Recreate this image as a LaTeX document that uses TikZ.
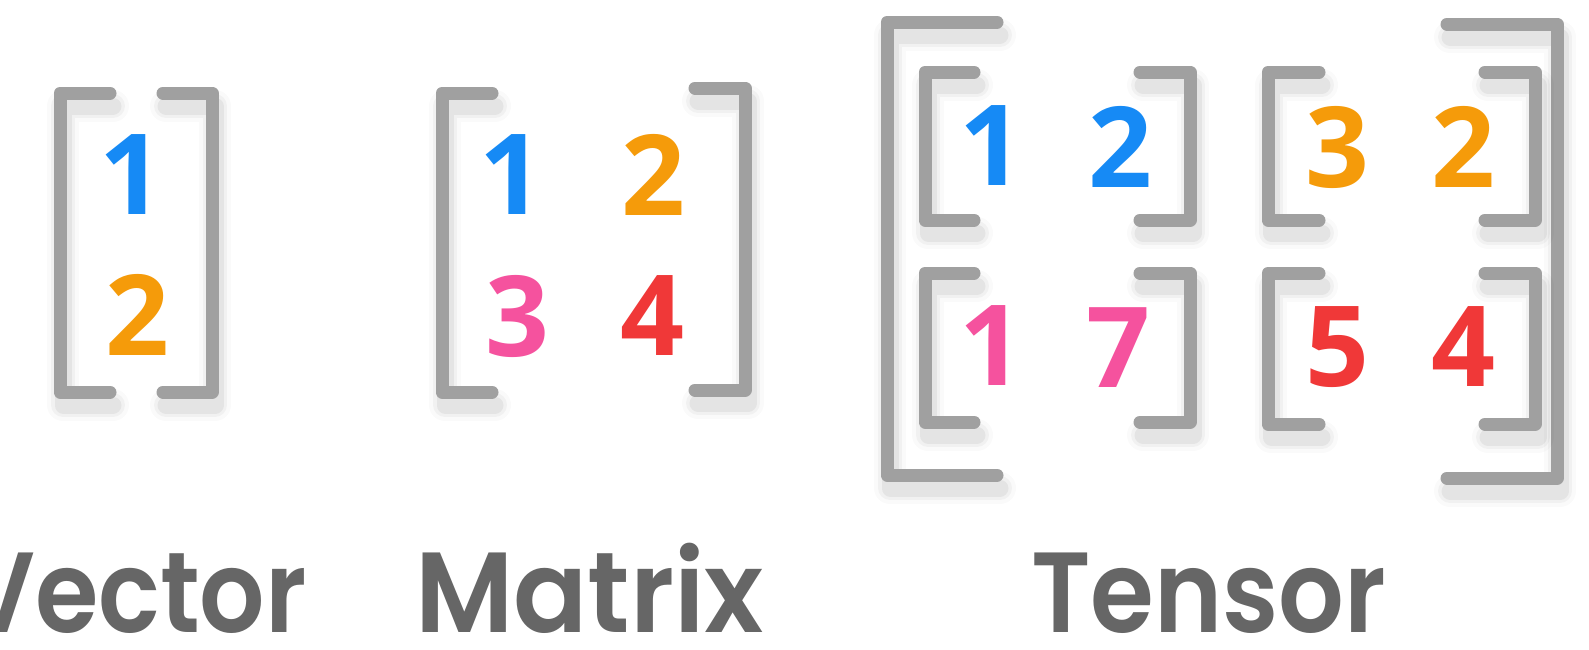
\documentclass[tikz,border=0pt]{standalone}
\usepackage{fontspec}
\newfontfamily\digfont{Open Sans}
\newfontfamily\labfont{Poppins SemiBold}
\definecolor{cblue}{RGB}{22,138,245}
\definecolor{corange}{RGB}{245,155,10}
\definecolor{cpink}{RGB}{245,82,158}
\definecolor{cred}{RGB}{240,56,56}
\definecolor{bgray}{RGB}{160,160,160}
\definecolor{tgray}{RGB}{102,102,102}
\tikzset{
  brk/.style={draw=bgray, line width=13pt, line cap=round, line join=round},
  shda/.style={draw=black, opacity=0.02, line width=32pt, line cap=round, line join=round},
  shdb/.style={draw=black, opacity=0.035, line width=24pt, line cap=round, line join=round},
  shdc/.style={draw=black, opacity=0.05, line width=17pt, line cap=round, line join=round},
  dig/.style={inner sep=0pt, font=\digfont\bfseries\fontsize{112}{112}\selectfont},
  lab/.style={inner sep=0pt, text=tgray, font=\labfont\fontsize{114}{114}\selectfont},
}
\newcommand\brkpath[4]{% xv top bottom xend
  \foreach \s in {shda,shdb,shdc}{\draw[\s, shift={(3,13)}] (#4,#2) -- (#1,#2) -- (#1,#3) -- (#4,#3);}
  \draw[brk] (#4,#2) -- (#1,#2) -- (#1,#3) -- (#4,#3);}
\begin{document}
\begin{tikzpicture}[x=1pt,y=-1pt]
\useasboundingbox (0,0) rectangle (1589,649);
\fill[white] (0,0) rectangle (1589,649);
% Vector
\brkpath{60}{93}{392}{110}
\brkpath{212}{93}{392}{163}
\node[dig, text=cblue] (v1) at (131,175) {1};
\node[dig, text=corange] (v2) at (137,315) {2};
% Matrix
\brkpath{442}{93}{392}{492}
\brkpath{745}{88}{390}{695}
\node[dig, text=cblue] (m11) at (511,175) {1};
\node[dig, text=corange] (m12) at (653,175) {2};
\node[dig, text=cpink] (m21) at (517,316) {3};
\node[dig, text=cred] (m22) at (652,316) {4};
% Tensor outer
\brkpath{887}{22}{475}{997}
\brkpath{1557}{24}{478}{1447}
% inner brackets
\brkpath{925}{72}{220}{974}
\brkpath{1190}{72}{220}{1140}
\brkpath{925}{273}{422}{974}
\brkpath{1190}{273}{422}{1140}
\brkpath{1268}{72}{220}{1319}
\brkpath{1535}{72}{220}{1485}
\brkpath{1268}{273}{424}{1319}
\brkpath{1535}{273}{424}{1485}
\node[dig, text=cblue] (t111) at (991,146) {1};
\node[dig, text=cblue] (t112) at (1120,147) {2};
\node[dig, text=corange] (t121) at (1337,147) {3};
\node[dig, text=corange] (t122) at (1463,147) {2};
\node[dig, text=cpink] (t211) at (991,346) {1};
\node[dig, text=cpink] (t212) at (1118,348) {7};
\node[dig, text=cred] (t221) at (1337,347) {5};
\node[dig, text=cred] (t222) at (1463,347) {4};
% labels
\node[lab, anchor=base east] (lv) at (307,632) {\scalebox{0.9}[1]{Vector}};
\node[lab, anchor=base west] (lm) at (415,632) {\scalebox{0.96}[1]{Matrix}};
\node[lab, anchor=base west] (lt) at (1031,632) {\scalebox{0.905}[1]{Tensor}};
\end{tikzpicture}
\end{document}
